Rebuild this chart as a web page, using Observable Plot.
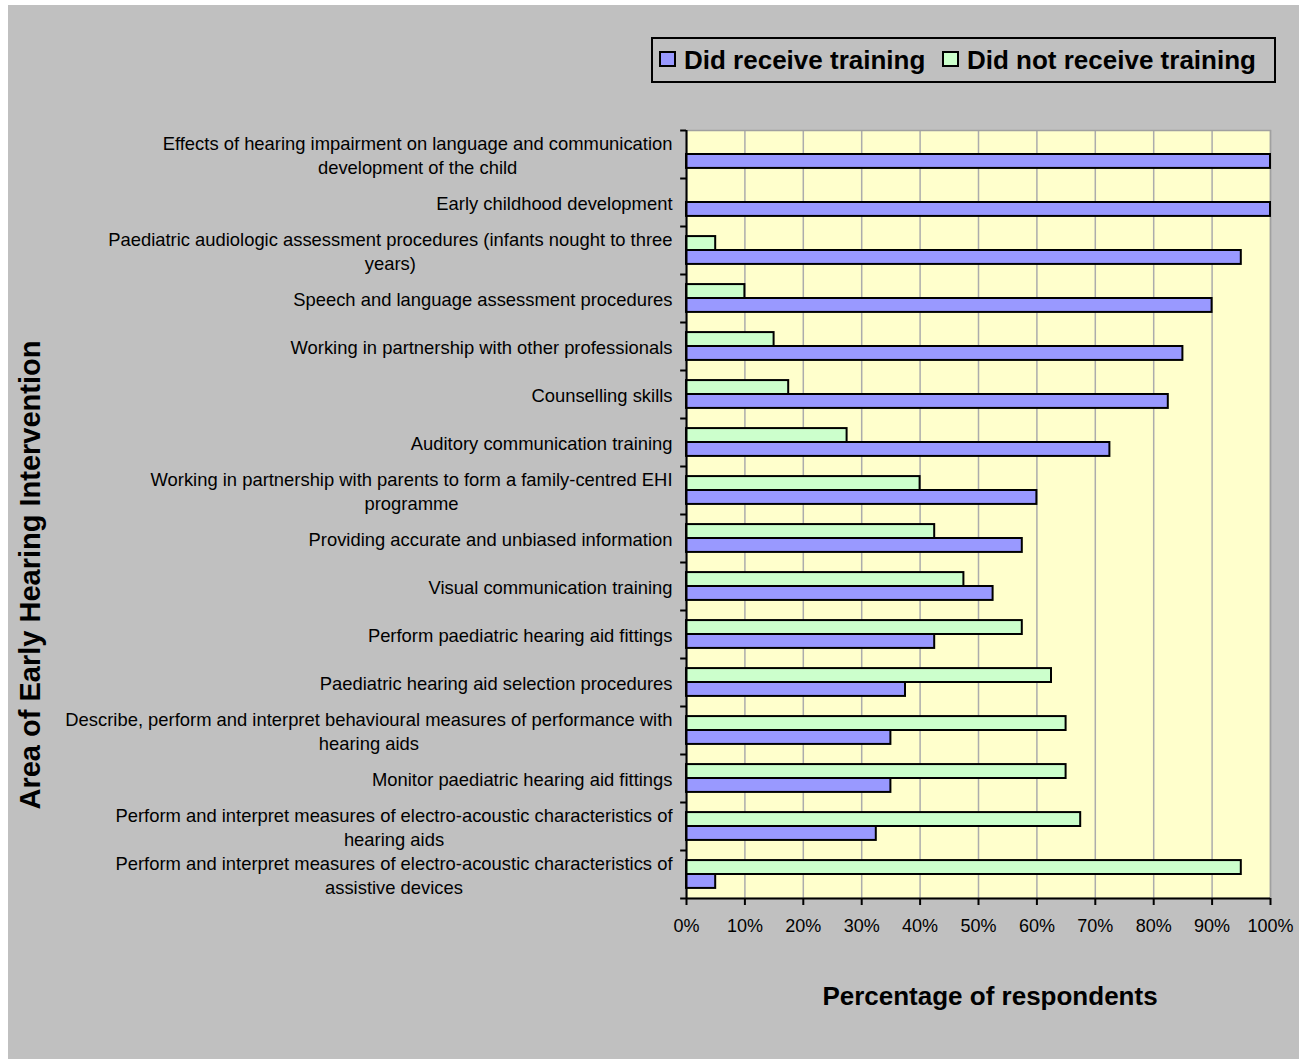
<!DOCTYPE html>
<html>
<head>
<meta charset="utf-8">
<script src="https://cdn.jsdelivr.net/npm/d3@7"></script>
<script src="https://cdn.jsdelivr.net/npm/@observablehq/plot@0.6"></script>
<style>
  html, body { margin: 0; padding: 0; background: #ffffff; }
  #chart { position: absolute; left: 8px; top: 5px; width: 1291px; height: 1054px; background: #c0c0c0; overflow: hidden;
           font-family: "Liberation Sans", Arial, sans-serif; color: #000; }
  #chart svg { position: absolute; left: 0; top: 0; }
  .legend { position: absolute; left: 643px; top: 32px; width: 625px; height: 46px; box-sizing: border-box;
            border: 2px solid #000; background: #c0c0c0; }
  .sw { position: absolute; top: 12px; width: 17px; height: 16px; box-sizing: border-box; border: 2px solid #000; }
  .lt { position: absolute; top: 8px; font-weight: bold; font-size: 26px; line-height: 26px; white-space: nowrap; }
  .xtitle { position: absolute; left: 982px; top: 978px; transform: translateX(-50%); font-weight: bold; font-size: 26px; line-height: 26px; white-space: nowrap; }
  .ytitle { position: absolute; left: 22px; top: 570px; transform: translate(-50%, -50%) rotate(-90deg); font-weight: bold; font-size: 29px; line-height: 29px; white-space: nowrap; }
</style>
</head>
<body>
<div id="chart"></div>
<script>
// ---- data ----
const categories = [
  "Effects of hearing impairment on language and communication\ndevelopment of the child",
  "Early childhood development",
  "Paediatric audiologic assessment procedures (infants nought to three\nyears)",
  "Speech and language assessment procedures",
  "Working in partnership with other professionals",
  "Counselling skills",
  "Auditory communication training",
  "Working in partnership with parents to form a family-centred EHI\nprogramme",
  "Providing accurate and unbiased information",
  "Visual communication training",
  "Perform paediatric hearing aid fittings",
  "Paediatric hearing aid selection procedures",
  "Describe, perform and interpret behavioural measures of performance with\nhearing aids",
  "Monitor paediatric hearing aid fittings",
  "Perform and interpret measures of electro-acoustic characteristics of\nhearing aids",
  "Perform and interpret measures of electro-acoustic characteristics of\nassistive devices"
];
const didReceive    = [100, 100, 95, 90, 85, 82.5, 72.5, 60, 57.5, 52.5, 42.5, 37.5, 35, 35, 32.5, 5];
const didNotReceive = [0, 0, 5, 10, 15, 17.5, 27.5, 40, 42.5, 47.5, 57.5, 62.5, 65, 65, 67.5, 95];
const seriesNames = ["Did receive training", "Did not receive training"];
const seriesColors = ["#9999ff", "#ccffcc"];
const xTicks = [0, 10, 20, 30, 40, 50, 60, 70, 80, 90, 100];
const xTitle = "Percentage of respondents";
const yTitle = "Area of Early Hearing Intervention";

// ---- layout ----
const W = 1291, H = 1054;
const mL = 678, mR = 29, mT = 125, mB = 161;
const step = (H - mT - mB) / categories.length;
const barH = step * 0.29;
const gapTop = step * 0.21;

const receiveData = categories.map((c, i) => ({category: c, value: didReceive[i]})).filter(d => d.value > 0);
const notData = categories.map((c, i) => ({category: c, value: didNotReceive[i]})).filter(d => d.value > 0);

const chart = Plot.plot({
  width: W, height: H,
  marginLeft: mL, marginRight: mR, marginTop: mT, marginBottom: mB,
  style: {background: "transparent", fontFamily: "'Liberation Sans', Arial, sans-serif", fontSize: "18.4px", color: "#000", overflow: "visible"},
  x: {domain: [0, 100]},
  y: {domain: categories, paddingInner: 0, paddingOuter: 0},
  marks: [
    Plot.frame({fill: "#ffffcc", stroke: null}),
    Plot.gridX(xTicks, {stroke: "#acacac", strokeOpacity: 1, strokeWidth: 1.5}),
    Plot.frame({stroke: "#a0a0a0", strokeWidth: 1.5}),
    Plot.barX(notData, {x: "value", y: "category", fill: seriesColors[1], stroke: "#000", strokeWidth: 2,
      insetTop: gapTop, insetBottom: step - gapTop - barH}),
    Plot.barX(receiveData, {x: "value", y: "category", fill: seriesColors[0], stroke: "#000", strokeWidth: 2,
      insetTop: gapTop + barH, insetBottom: step - gapTop - 2 * barH}),
    Plot.ruleX([0], {stroke: "#000", strokeWidth: 2}),
    Plot.ruleY(categories, {y: d => d, x1: -1, x2: 0, dy: -step / 2, stroke: "#000", strokeWidth: 2}),
    Plot.ruleY([categories[categories.length - 1]], {y: d => d, x1: -1, x2: 100, dy: step / 2, stroke: "#000", strokeWidth: 2}),
    Plot.axisX(xTicks, {tickSize: 7, tickPadding: 14, strokeWidth: 2, tickFormat: d => d + "%", label: null, fontSize: 18}),
    Plot.axisY({tickSize: 0, tickPadding: 14, label: null, lineHeight: 1.3, fontSize: 18.4})
  ]
});

const root = document.getElementById("chart");
root.appendChild(chart);

// centre the lines of multi-line category labels on each other (right-aligned block)
chart.querySelectorAll('g[aria-label="y-axis tick label"] text').forEach(t => {
  const spans = t.querySelectorAll("tspan");
  if (spans.length > 1) {
    let maxW = 0;
    spans.forEach(s => { maxW = Math.max(maxW, s.getComputedTextLength()); });
    t.setAttribute("text-anchor", "middle");
    spans.forEach(s => s.setAttribute("x", -maxW / 2));
  }
});

// legend
const legend = document.createElement("div");
legend.className = "legend";
const swLeft = [6, 289], txtLeft = [31, 314];
seriesNames.forEach((name, i) => {
  const sw = document.createElement("div");
  sw.className = "sw";
  sw.style.left = swLeft[i] + "px";
  sw.style.background = seriesColors[i];
  legend.appendChild(sw);
  const t = document.createElement("div");
  t.className = "lt";
  t.style.left = txtLeft[i] + "px";
  t.textContent = name;
  legend.appendChild(t);
});
root.appendChild(legend);

const xt = document.createElement("div");
xt.className = "xtitle";
xt.textContent = xTitle;
root.appendChild(xt);

const yt = document.createElement("div");
yt.className = "ytitle";
yt.textContent = yTitle;
root.appendChild(yt);
</script>
</body>
</html>
